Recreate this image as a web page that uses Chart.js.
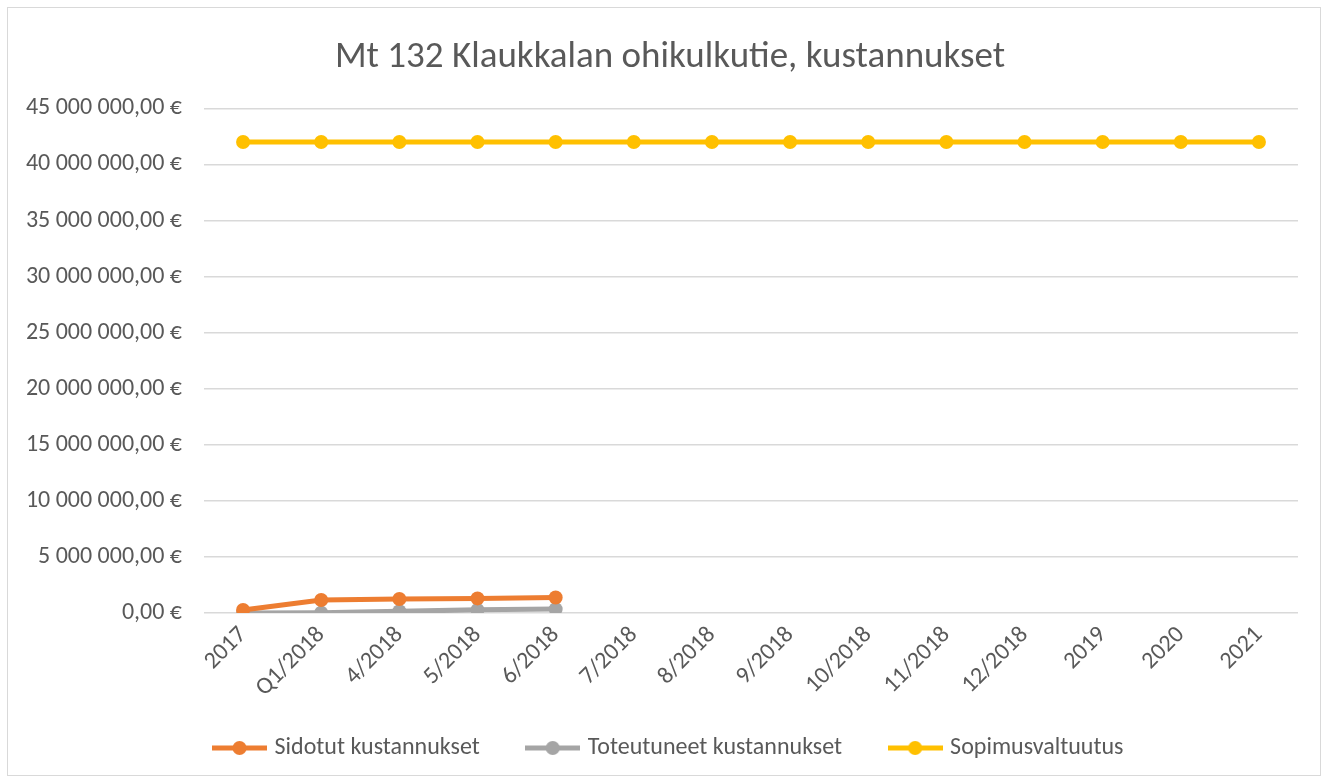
<!DOCTYPE html>
<html>
<head>
<meta charset="utf-8">
<script src="https://cdn.jsdelivr.net/npm/chart.js@4/dist/chart.umd.min.js"></script>
<style>
  html, body { margin: 0; padding: 0; background: #fff; }
  #wrap { position: absolute; left: 7px; top: 7px; width: 1312px; height: 767px; border: 1px solid #d9d9d9; background: #fff; }
  canvas { display: block; }
</style>
</head>
<body>
<div id="wrap"><canvas id="chart" width="1312" height="767"></canvas></div>
<script>
const categories = ['2017', 'Q1/2018', '4/2018', '5/2018', '6/2018', '7/2018', '8/2018', '9/2018', '10/2018', '11/2018', '12/2018', '2019', '2020', '2021'];
const sidotut = [270000, 1160000, 1250000, 1300000, 1380000, null, null, null, null, null, null, null, null, null];
const toteutuneet = [0, 30000, 150000, 280000, 350000, null, null, null, null, null, null, null, null, null];
const sopimus = [42000000, 42000000, 42000000, 42000000, 42000000, 42000000, 42000000, 42000000, 42000000, 42000000, 42000000, 42000000, 42000000, 42000000];
const yTicks = [0, 5000000, 10000000, 15000000, 20000000, 25000000, 30000000, 35000000, 40000000, 45000000];

const fontFamily = 'Carlito, Calibri, "Open Sans", "Noto Sans", sans-serif';
const textColor = '#595959';

function formatEuro(v) {
    const s = Math.round(v).toString().replace(/\B(?=(\d{3})+(?!\d))/g, ' ');
    return s + ',00 €';
}

// legend marker: short line with a dot in the middle, like Excel
function legendMarker(color) {
    const c = document.createElement('canvas');
    c.width = 55; c.height = 16;
    const g = c.getContext('2d');
    g.strokeStyle = color;
    g.lineWidth = 5;
    g.beginPath();
    g.moveTo(0, 8); g.lineTo(55, 8);
    g.stroke();
    g.fillStyle = color;
    g.beginPath();
    g.arc(27.5, 8, 7, 0, Math.PI * 2);
    g.fill();
    return c;
}

function makeSet(label, data, color) {
    return {
        label: label,
        data: data,
        borderColor: color,
        backgroundColor: color,
        borderWidth: 5,
        pointRadius: 7,
        pointHoverRadius: 7,
        pointBorderWidth: 0,
        fill: false,
        tension: 0
    };
}

// fixed axis sizes; labels may run outside the axis box, so no clipping
function fixSize(prop, size) {
    return s => {
        s[prop] = size;
        s._computeLabelArea = () => undefined;
    };
}

const ctx = document.getElementById('chart').getContext('2d');
new Chart(ctx, {
    type: 'line',
    data: {
        labels: categories,
        datasets: [
            makeSet('Sidotut kustannukset', sidotut, '#ED7D31'),
            makeSet('Toteutuneet kustannukset', toteutuneet, '#A5A5A5'),
            makeSet('Sopimusvaltuutus', sopimus, '#FFC000')
        ]
    },
    options: {
        responsive: false,
        animation: false,
        layout: { padding: { left: 34, right: 22, top: 12, bottom: 5 } },
        scales: {
            x: {
                offset: true,
                grid: { display: false },
                border: { display: false },
                afterFit: fixSize('height', 73),
                ticks: {
                    color: textColor,
                    font: { family: fontFamily, size: 24 },
                    minRotation: 45,
                    maxRotation: 45,
                    autoSkip: false,
                    padding: 0
                }
            },
            y: {
                min: 0,
                max: 45000000,
                afterBuildTicks: axis => { axis.ticks = yTicks.map(v => ({ value: v })); },
                afterFit: fixSize('width', 162),
                grid: { color: '#d9d9d9', lineWidth: 1.5, drawTicks: false },
                border: { display: false },
                ticks: {
                    color: textColor,
                    font: { family: fontFamily, size: 24 },
                    padding: 22,
                    callback: v => formatEuro(v)
                }
            }
        },
        plugins: {
            title: {
                display: true,
                text: 'Mt 132 Klaukkalan ohikulkutie, kustannukset',
                color: textColor,
                font: { family: fontFamily, size: 37, weight: 'normal' },
                padding: { top: 16, bottom: 28 }
            },
            legend: {
                position: 'bottom',
                labels: {
                    color: textColor,
                    font: { family: fontFamily, size: 24 },
                    padding: 50,
                    usePointStyle: true,
                    pointStyleWidth: 46,
                    generateLabels: chart => chart.data.datasets.map((ds, i) => ({
                        text: ds.label,
                        fontColor: textColor,
                        pointStyle: legendMarker(ds.borderColor),
                        hidden: false,
                        datasetIndex: i,
                        lineWidth: 0,
                        strokeStyle: ds.borderColor,
                        fillStyle: ds.borderColor
                    }))
                }
            },
            tooltip: { enabled: false }
        }
    }
});
</script>
</body>
</html>
